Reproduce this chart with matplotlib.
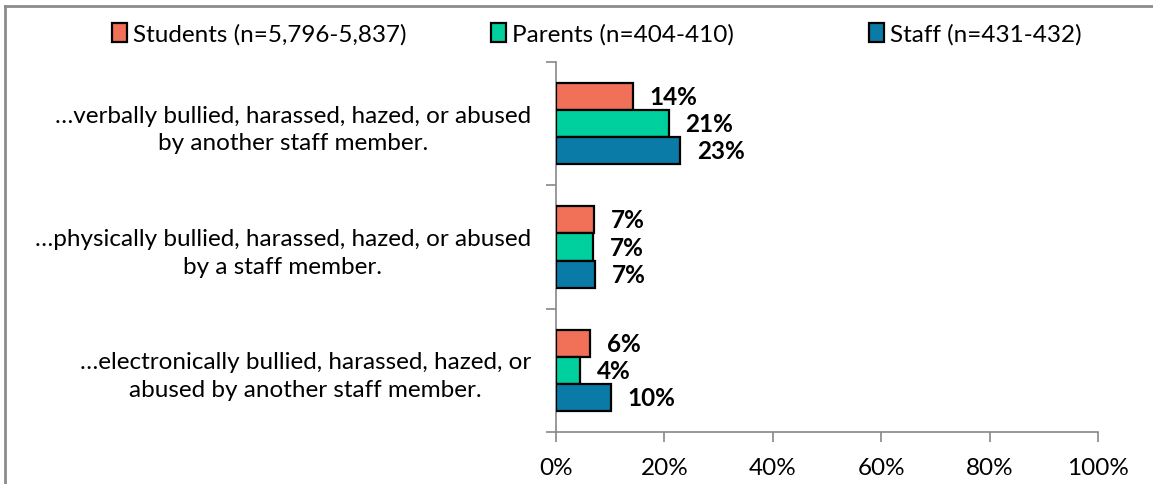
import matplotlib
matplotlib.use("Agg")
import matplotlib.pyplot as plt
from matplotlib.patches import Patch
from matplotlib.lines import Line2D
import numpy as np

plt.rcParams['font.family'] = ['Lato', 'DejaVu Sans']

categories = [
    "…verbally bullied, harassed, hazed, or abused\nby another staff member.",
    "…physically bullied, harassed, hazed, or abused\nby a staff member.",
    "…electronically bullied, harassed, hazed, or\nabused by another staff member.",
]
series_names = ["Students (n=5,796-5,837)", "Parents (n=404-410)", "Staff (n=431-432)"]
students = [14.2, 7.0, 6.3]
parents = [20.8, 6.9, 4.4]
staff = [22.9, 7.2, 10.1]
labels_students = ["14%", "7%", "6%"]
labels_parents = ["21%", "7%", "4%"]
labels_staff = ["23%", "7%", "10%"]
xticks = [0, 20, 40, 60, 80, 100]
xticklabels = ["0%", "20%", "40%", "60%", "80%", "100%"]

colors = ["#F07158", "#00CF9E", "#0A7AA6"]
FS = 17.5
W, H = 1153, 485
fig = plt.figure(figsize=(W / 100, H / 100), dpi=100)
ax = fig.add_axes([556 / W, 1 - 433 / H, (1098 - 556) / W, (433 - 63) / H])

y = np.arange(len(categories))
h = 0.22
series = [students, parents, staff]
labs = [labels_students, labels_parents, labels_staff]
offsets = [-h, 0, h]
for vals, lab, c, off in zip(series, labs, colors, offsets):
    bars = ax.barh(y + off, vals, height=h, color=c, edgecolor="black", linewidth=1.6, zorder=3)
    for b, t in zip(bars, lab):
        ax.annotate(t, (b.get_width(), b.get_y() + b.get_height() / 2), xytext=(12, 0),
                    textcoords="offset points", ha="left", va="center",
                    fontsize=FS, fontweight="bold", color="black")

ax.set_xlim(0, 100)
ax.set_ylim(2.5, -0.5)
ax.set_xticks(xticks)
ax.set_xticklabels(xticklabels, fontsize=FS)
ax.set_yticks([-0.5, 0.5, 1.5, 2.5], minor=False)
ax.set_yticklabels([])
ax.set_yticks(y, minor=True)
ax.set_yticklabels(categories, minor=True, fontsize=FS, ha="right", multialignment="center",
                   linespacing=1.4)
for t in ax.get_yticklabels(minor=True):
    t.set_y(t.get_position()[1])
ax.tick_params(axis="y", which="minor", length=0, pad=18)
ax.tick_params(axis="y", which="major", length=7, color="#888888", width=1.2, direction="out")
ax.tick_params(axis="x", length=7, color="#888888", width=1.2, direction="out", pad=11)
for s in ["top", "right"]:
    ax.spines[s].set_visible(False)
for s in ["left", "bottom"]:
    ax.spines[s].set_color("#888888")
    ax.spines[s].set_linewidth(1.2)

legend_x = [112, 491, 869]
for name, c, lx in zip(series_names, colors, legend_x):
    fig.legend([Patch(facecolor=c, edgecolor="black", linewidth=1.6)], [name],
               loc="center left", bbox_to_anchor=(lx / W, 1 - 35 / H), frameon=False,
               fontsize=FS, handlelength=0.6, handleheight=0.8, handletextpad=0.25,
               borderpad=0, borderaxespad=0)

fig.add_artist(Line2D([5 / W, 1], [1 - 7 / H, 1 - 7 / H], color="#8c8c8c", linewidth=2, transform=fig.transFigure))
fig.add_artist(Line2D([5 / W, 5 / W], [0, 1 - 7 / H], color="#8c8c8c", linewidth=2, transform=fig.transFigure))

fig.savefig("out.png", dpi=100, facecolor="white")
